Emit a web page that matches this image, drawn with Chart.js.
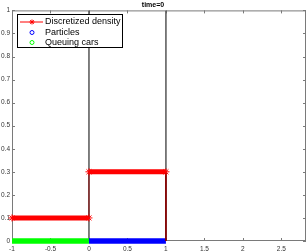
<!DOCTYPE html>
<html>
<head>
<meta charset="utf-8">
<script src="https://cdn.jsdelivr.net/npm/chart.js@4/dist/chart.umd.min.js"></script>
<style>
html,body{margin:0;padding:0;background:#fff;}
canvas{display:block;}
</style>
</head>
<body>
<canvas id="c" width="307" height="252"></canvas>
<script>
// ---- data ----
const titleText = "time=0";
const densityX = [-1, 0, 0, 1, 1];
const densityY = [0.1, 0.1, 0.3, 0.3, 0];
const densityMarker = [true, true, true, true, false];
const particlesX = [0, 1];
const particlesY = [0, 0];
const queueX = [-1, 0];
const queueY = [0, 0];
const barrierX = [0, 1];
const barrierY = [0, 1];
const xTicks = [-1, -0.5, 0, 0.5, 1, 1.5, 2, 2.5];
const yTicks = [0, 0.1, 0.2, 0.3, 0.4, 0.5, 0.6, 0.7, 0.8, 0.9, 1];
const xRange = [-1, 2.82];
const yRange = [0, 1];
const legendLabels = ["Discretized density", "Particles", "Queuing cars"];

const pts = (xs, ys) => xs.map((x, i) => ({x: x, y: ys[i]}));
const barrierData = [];
barrierX.forEach((bx, i) => {
  if (i > 0) barrierData.push({x: bx, y: null});
  barrierData.push({x: bx, y: barrierY[0]}, {x: bx, y: barrierY[1]});
});

const isVertical = ctx => ctx.p0.parsed.x === ctx.p1.parsed.x;

const frame = {
  id: 'frame',
  beforeDatasetsDraw(chart) {
    const {ctx, chartArea: a, scales: {x, y}} = chart;
    ctx.save();
    ctx.strokeStyle = '#7a7a7a';
    ctx.lineWidth = 1;
    ctx.strokeRect(a.left + 0.5, a.top + 0.5, a.right - a.left - 1, a.bottom - a.top - 1);
    ctx.beginPath();
    const tl = 3;
    xTicks.forEach(v => {
      const px = Math.round(x.getPixelForValue(v)) + 0.5;
      ctx.moveTo(px, a.bottom); ctx.lineTo(px, a.bottom - tl);
      ctx.moveTo(px, a.top); ctx.lineTo(px, a.top + tl);
    });
    yTicks.forEach(v => {
      const py = Math.round(y.getPixelForValue(v)) + 0.5;
      ctx.moveTo(a.left, py); ctx.lineTo(a.left + tl, py);
      ctx.moveTo(a.right, py); ctx.lineTo(a.right - tl, py);
    });
    ctx.stroke();
    ctx.restore();
  }
};

const legendBox = {
  id: 'legendBox',
  afterDraw(chart) {
    const ctx = chart.ctx;
    const bx = 17, by = 14, bw = 105, bh = 33;
    ctx.save();
    ctx.fillStyle = '#fff';
    ctx.fillRect(bx, by, bw, bh);
    ctx.strokeStyle = '#000';
    ctx.lineWidth = 1;
    ctx.strokeRect(bx + 0.5, by + 0.5, bw, bh);
    const rows = [22, 32.5, 42.5];
    const mx = 32;
    ctx.strokeStyle = '#ff0000';
    ctx.beginPath();
    ctx.moveTo(20, rows[0]); ctx.lineTo(43, rows[0]);
    ctx.stroke();
    ctx.beginPath();
    const r = 2.5;
    ctx.moveTo(mx - r, rows[0]); ctx.lineTo(mx + r, rows[0]);
    ctx.moveTo(mx, rows[0] - r); ctx.lineTo(mx, rows[0] + r);
    ctx.moveTo(mx - 1.8, rows[0] - 1.8); ctx.lineTo(mx + 1.8, rows[0] + 1.8);
    ctx.moveTo(mx - 1.8, rows[0] + 1.8); ctx.lineTo(mx + 1.8, rows[0] - 1.8);
    ctx.stroke();
    ctx.strokeStyle = '#0000ff';
    ctx.beginPath(); ctx.arc(mx, rows[1], 2, 0, Math.PI * 2); ctx.stroke();
    ctx.strokeStyle = '#00ff00';
    ctx.beginPath(); ctx.arc(mx, rows[2], 2, 0, Math.PI * 2); ctx.stroke();
    ctx.fillStyle = '#000';
    ctx.font = '9px "Liberation Sans", Arial, sans-serif';
    ctx.textBaseline = 'middle';
    ctx.textAlign = 'left';
    legendLabels.forEach((t, i) => ctx.fillText(t, 45, rows[i]));
    ctx.restore();
  }
};

new Chart(document.getElementById('c'), {
  type: 'scatter',
  data: {
    datasets: [
      {
        label: legendLabels[0],
        data: pts(densityX, densityY),
        showLine: true,
        borderColor: '#ff0000',
        backgroundColor: '#ff0000',
        borderWidth: 5,
        pointStyle: 'star',
        pointRadius: densityMarker.map(m => m ? 3.5 : 0),
        pointBorderWidth: 1,
        pointBorderColor: '#ff0000',
        clip: false,
        segment: {
          borderWidth: ctx => isVertical(ctx) ? 1 : 5,
          borderColor: ctx => isVertical(ctx) ? '#8b0000' : '#ff0000'
        }
      },
      {
        label: legendLabels[1],
        data: pts(particlesX, particlesY),
        showLine: true,
        borderColor: '#0000ff',
        borderWidth: 5.5,
        pointRadius: 0,
        clip: false
      },
      {
        label: legendLabels[2],
        data: pts(queueX, queueY),
        showLine: true,
        borderColor: '#00ff00',
        borderWidth: 5.5,
        pointRadius: 0,
        clip: false
      },
      {
        label: 'barriers',
        data: barrierData,
        showLine: true,
        spanGaps: false,
        borderColor: '#555555',
        borderWidth: 1.5,
        pointRadius: 0
      }
    ]
  },
  options: {
    responsive: false,
    animation: false,
    events: [],
    layout: {autoPadding: false, padding: {left: 0, right: 1, top: 0, bottom: 0}},
    plugins: {
      legend: {display: false},
      tooltip: {enabled: false},
      title: {
        display: true,
        text: titleText,
        color: '#000',
        font: {family: '"Liberation Sans", Arial, sans-serif', size: 7, weight: 'bold'},
        padding: {top: 1, bottom: 1}
      }
    },
    scales: {
      x: {
        type: 'linear',
        min: xRange[0],
        max: xRange[1],
        afterBuildTicks: s => { s.ticks = xTicks.map(v => ({value: v})); },
        afterFit: s => { s.height = 11; s.paddingLeft = 0; s.paddingRight = 0; },
        grid: {display: false, drawTicks: false},
        border: {display: false},
        ticks: {
          color: '#333',
          padding: 4,
          maxRotation: 0,
          autoSkip: false,
          font: {family: '"Liberation Sans", Arial, sans-serif', size: 6.5},
          callback: v => String(v)
        }
      },
      y: {
        type: 'linear',
        min: yRange[0],
        max: yRange[1],
        afterBuildTicks: s => { s.ticks = yTicks.map(v => ({value: v})); },
        afterFit: s => { s.width = 12; s.paddingTop = 0; s.paddingBottom = 0; },
        grid: {display: false, drawTicks: false},
        border: {display: false},
        ticks: {
          color: '#333',
          padding: 2,
          autoSkip: false,
          font: {family: '"Liberation Sans", Arial, sans-serif', size: 6.5},
          callback: v => String(v)
        }
      }
    }
  },
  plugins: [frame, legendBox]
});
</script>
</body>
</html>
